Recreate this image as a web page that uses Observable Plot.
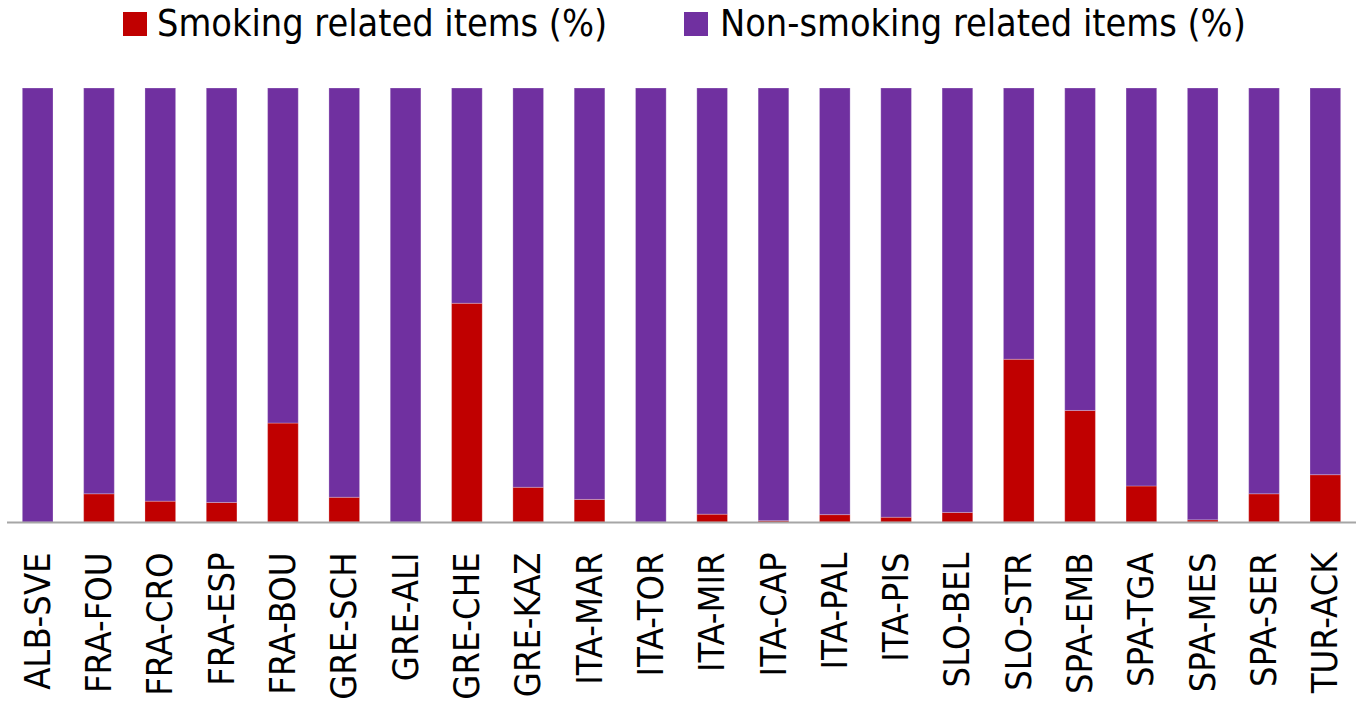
<!DOCTYPE html>
<html>
<head>
<meta charset="utf-8">
<script src="https://cdn.jsdelivr.net/npm/d3@7"></script>
<script src="https://cdn.jsdelivr.net/npm/@observablehq/plot@0.6"></script>
<style>
  html, body { margin: 0; padding: 0; background: #fff; }
  body { width: 1365px; height: 711px; overflow: hidden; font-family: "DejaVu Sans Condensed", "Liberation Sans Narrow", sans-serif; }
  #legend { height: 60px; position: relative; font-size: 37.5px; color: #000; }
  .sw { position: absolute; top: 12px; width: 24px; height: 24px; }
  .txt { position: absolute; top: 0px; line-height: 46px; white-space: nowrap; }
</style>
</head>
<body>
<div id="legend"></div>
<div id="chart"></div>
<script>
const sites = ["ALB-SVE","FRA-FOU","FRA-CRO","FRA-ESP","FRA-BOU","GRE-SCH","GRE-ALI","GRE-CHE","GRE-KAZ","ITA-MAR","ITA-TOR","ITA-MIR","ITA-CAP","ITA-PAL","ITA-PIS","SLO-BEL","SLO-STR","SPA-EMB","SPA-TGA","SPA-MES","SPA-SER","TUR-ACK"];
const smoking = [0, 6.5, 4.8, 4.5, 22.8, 5.7, 0, 50.4, 8.0, 5.2, 0, 1.8, 0.3, 1.7, 1.1, 2.2, 37.5, 25.7, 8.3, 0.5, 6.5, 10.9];
const nonSmoking = smoking.map(v => 100 - v);
const seriesNames = ["Smoking related items (%)", "Non-smoking related items (%)"];
const seriesColors = ["#C00000", "#7030A0"];

const rows = [];
sites.forEach((s, i) => {
  rows.push({site: s, series: seriesNames[0], value: smoking[i]});
  rows.push({site: s, series: seriesNames[1], value: nonSmoking[i]});
});

const legend = document.getElementById("legend");
const swX = [123, 684];
const txtX = [157, 720];
seriesNames.forEach((n, i) => {
  const sw = document.createElement("div");
  sw.className = "sw";
  sw.style.left = swX[i] + "px";
  sw.style.background = seriesColors[i];
  legend.appendChild(sw);
  const t = document.createElement("div");
  t.className = "txt";
  t.style.left = txtX[i] + "px";
  t.textContent = n;
  legend.appendChild(t);
});

const chart = Plot.plot({
  width: 1365,
  height: 651,
  marginTop: 28,
  marginBottom: 189,
  marginLeft: 7,
  marginRight: 9,
  style: {fontFamily: '"DejaVu Sans Condensed", "Liberation Sans Narrow", sans-serif', fontSize: "36px", color: "#000"},
  x: {domain: sites, paddingInner: 0.5, paddingOuter: 0.25, round: false, label: null},
  y: {domain: [0, 100], axis: null},
  color: {domain: seriesNames, range: seriesColors},
  marks: [
    Plot.barY(rows, {x: "site", y: "value", fill: "series", order: seriesNames, stroke: "#ffffff", strokeOpacity: 0.25, strokeWidth: 1}),
    Plot.ruleY([0], {stroke: "#a6a6a6", strokeWidth: 2}),
    Plot.axisX({tickSize: 0, tickPadding: 30, tickRotate: -90, fontSize: 36, label: null})
  ]
});
document.getElementById("chart").appendChild(chart);
</script>
</body>
</html>
